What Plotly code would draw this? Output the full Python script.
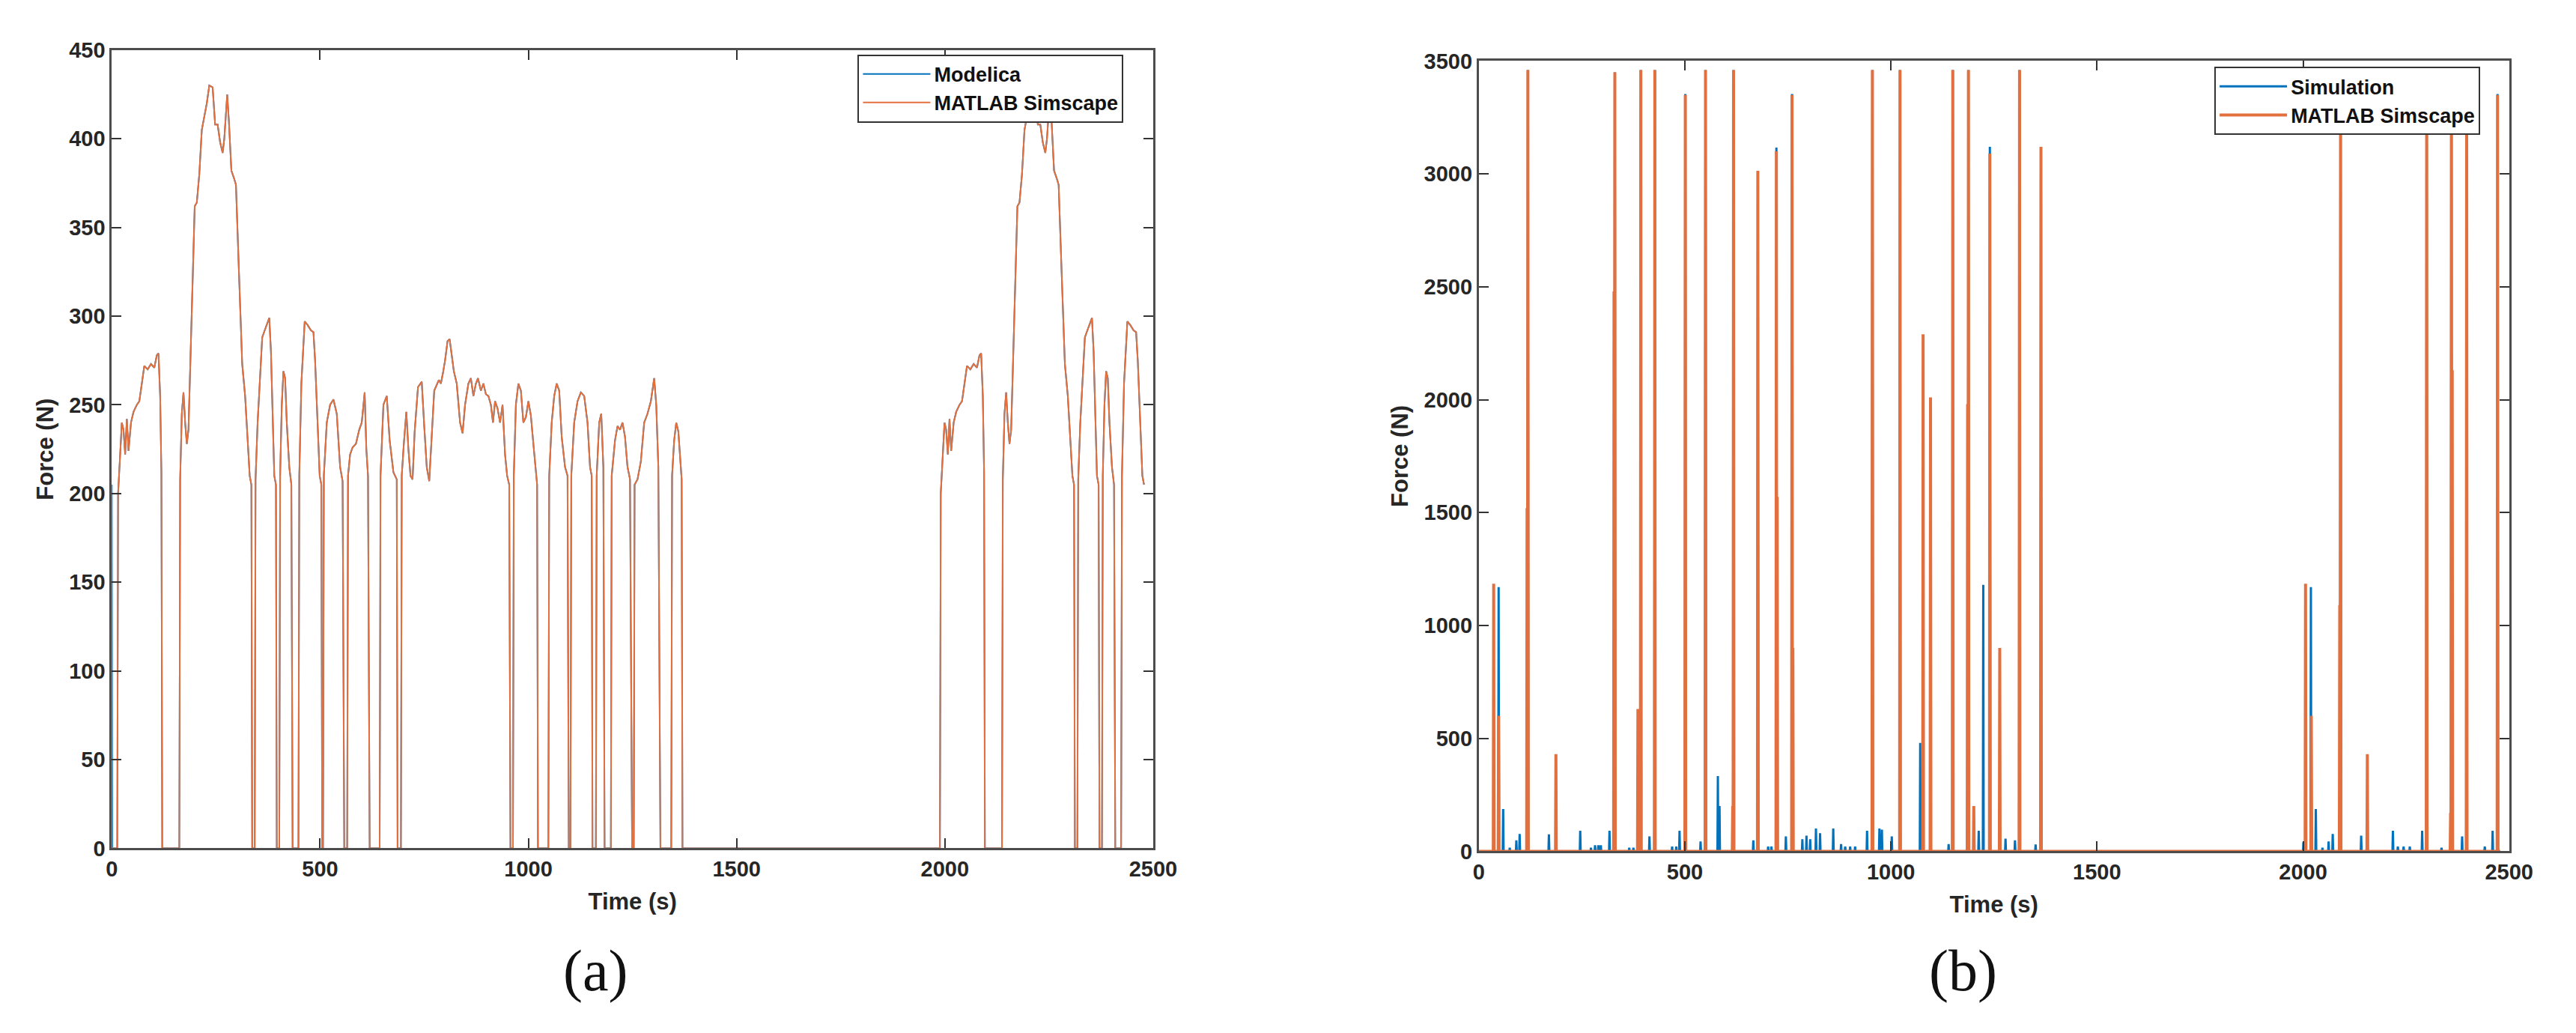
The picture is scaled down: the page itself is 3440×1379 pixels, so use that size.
import plotly.graph_objects as go

# ---------------- Panel (a): force time series (N) ----------------
# (time s, force N); Modelica is identical to
# Simscape except for its first sample.
A_SIMSCAPE_POINTS = [
    (0, 0), (1, 0), (13, 0), (15, 200), (20, 222), (24, 240), (28, 236), (32, 222), (36, 242), (40, 224),
    (46, 240), (52, 246), (60, 250), (66, 252), (72, 262), (78, 272), (86, 270), (94, 273), (102, 271),
    (108, 278), (112, 279), (116, 255), (119, 212), (121, 0),
    (162, 0), (164, 208), (168, 245), (172, 257), (176, 240), (180, 228), (184, 236), (189, 282), (195, 326),
    (199, 362), (204, 364), (210, 380), (216, 405), (222, 413), (228, 420), (234, 430), (242, 429), (248, 408),
    (254, 408), (260, 398), (266, 392), (270, 400), (277, 425), (281, 410), (287, 382), (293, 378), (298, 374),
    (305, 326), (313, 273), (320, 255), (326, 232), (331, 210), (335, 205), (337, 0),
    (343, 0), (345, 208), (350, 240), (355, 262), (361, 288), (367, 292), (373, 296), (378, 299), (382, 280),
    (386, 245), (390, 210), (394, 205), (396, 0),
    (402, 0), (404, 210), (408, 250), (412, 269), (416, 265), (420, 240), (426, 215), (431, 205), (434, 0),
    (448, 0), (450, 210), (455, 262), (463, 297), (470, 295), (478, 292), (484, 291), (488, 275), (494, 240),
    (499, 210), (503, 205), (505, 0),
    (507, 0), (509, 210), (516, 240), (524, 250), (532, 253), (540, 245), (548, 215), (554, 207), (558, 0),
    (565, 0), (567, 210), (572, 222), (578, 226), (586, 228), (594, 236), (600, 240), (607, 257), (611, 225),
    (615, 210), (619, 0),
    (643, 0), (645, 210), (652, 250), (660, 255), (667, 230), (676, 212), (684, 208), (686, 0),
    (694, 0), (696, 210), (701, 228), (707, 246), (712, 225), (717, 210), (722, 208), (727, 235), (735, 260),
    (744, 263), (750, 238), (756, 215), (762, 207), (768, 230), (774, 258), (785, 264), (790, 262), (795, 268),
    (800, 275), (806, 286), (811, 287), (816, 278), (821, 269), (828, 262), (836, 240), (842, 234), (848, 250),
    (856, 262), (862, 265), (868, 255), (874, 262), (879, 265), (886, 258), (892, 262), (898, 256), (904, 255),
    (910, 250), (915, 240), (920, 252), (926, 248), (932, 240), (938, 250), (944, 222), (949, 210), (954, 205),
    (957, 0),
    (963, 0), (965, 210), (970, 250), (976, 262), (982, 258), (988, 240), (994, 243), (1000, 252), (1006, 244),
    (1012, 228), (1018, 210), (1021, 205), (1023, 0),
    (1048, 0), (1050, 210), (1056, 240), (1062, 255), (1068, 262), (1074, 258), (1080, 232), (1088, 215),
    (1094, 210), (1097, 0),
    (1101, 0), (1103, 210), (1110, 240), (1118, 252), (1126, 257), (1134, 255), (1142, 240), (1148, 215),
    (1152, 210), (1154, 0),
    (1162, 0), (1164, 210), (1170, 240), (1175, 245), (1180, 215), (1183, 0),
    (1198, 0), (1200, 210), (1208, 230), (1214, 238), (1220, 236), (1226, 240), (1232, 232), (1238, 215),
    (1244, 208), (1249, 0),
    (1253, 0), (1255, 205), (1262, 208), (1270, 218), (1278, 240), (1286, 245), (1294, 252), (1302, 265),
    (1307, 250), (1312, 215), (1317, 0),
    (1343, 0), (1345, 210), (1350, 230), (1355, 240), (1360, 235), (1365, 215), (1368, 208), (1370, 0),
    (1988, 0), (1990, 200), (1995, 222), (1999, 240), (2003, 236), (2007, 222), (2011, 242), (2015, 224),
    (2021, 240), (2027, 246), (2035, 250), (2041, 252), (2047, 262), (2053, 272), (2061, 270), (2069, 273),
    (2077, 271), (2083, 278), (2087, 279), (2091, 255), (2094, 212), (2096, 0),
    (2137, 0), (2139, 208), (2143, 245), (2147, 257), (2151, 240), (2155, 228), (2159, 236), (2164, 282),
    (2170, 326), (2174, 362), (2179, 364), (2185, 380), (2191, 405), (2197, 413), (2203, 420), (2209, 430),
    (2217, 429), (2223, 408), (2229, 408), (2235, 398), (2241, 392), (2245, 400), (2252, 425), (2256, 410),
    (2262, 382), (2268, 378), (2273, 374), (2280, 326), (2288, 273), (2295, 255), (2301, 232), (2306, 210),
    (2310, 205), (2312, 0),
    (2318, 0), (2320, 208), (2325, 240), (2330, 262), (2336, 288), (2342, 292), (2348, 296), (2353, 299),
    (2357, 280), (2361, 245), (2365, 210), (2369, 205), (2371, 0),
    (2377, 0), (2379, 210), (2383, 250), (2387, 269), (2391, 265), (2395, 240), (2401, 215), (2406, 205),
    (2409, 0),
    (2423, 0), (2425, 210), (2430, 262), (2438, 297), (2445, 295), (2453, 292), (2459, 291), (2463, 275),
    (2469, 240), (2474, 210), (2478, 205),
]
A_MODELICA_FIRST = (0, 205)

# ---------------- Panel (b): force spikes (N) ----------------
B_END_TIME = 2478
B_SIMSCAPE_SPIKES = [
    (36, 1185), (48, 600), (117, 1520), (119, 3460), (187, 430), (328, 2480), (330, 3450), (386, 630),
    (393, 3460), (427, 3460), (501, 3350), (550, 3460), (616, 200), (618, 3460), (677, 3014), (722, 3100),
    (724, 1570), (760, 3350), (762, 900), (955, 3460), (1022, 3460), (1078, 2290), (1096, 2010), (1150, 3460),
    (1186, 1980), (1188, 3460), (1201, 200), (1240, 3090), (1264, 900), (1312, 3460), (1364, 3120),
    (2006, 1185), (2020, 600), (2089, 1090), (2091, 3450), (2156, 430), (2300, 3450), (2358, 170),
    (2360, 3450), (2362, 2130), (2397, 3450), (2472, 3350),
]
B_SIMULATION_SPIKES = [
    (48, 1170), (59, 187), (75, 16), (91, 48), (99, 77), (119, 3460), (170, 75), (246, 91), (272, 16),
    (282, 27), (290, 27), (296, 27), (317, 91), (330, 3450), (365, 16), (375, 16), (393, 3460), (414, 66),
    (427, 3460), (469, 21), (479, 21), (487, 91), (501, 3354), (538, 43), (550, 3460), (580, 333), (584, 200),
    (618, 3460), (666, 48), (677, 3014), (702, 21), (710, 21), (722, 3117), (745, 66), (760, 3354), (785, 53),
    (795, 69), (804, 53), (818, 101), (828, 80), (860, 101), (879, 32), (889, 21), (901, 21), (913, 21),
    (942, 91), (955, 3460), (972, 101), (978, 96), (1002, 66), (1022, 3460), (1071, 480), (1140, 32),
    (1150, 3460), (1188, 3460), (1213, 91), (1224, 1180), (1240, 3120), (1278, 56), (1301, 48), (1312, 3460),
    (1351, 30), (1364, 3120), (2001, 40), (2019, 1170), (2031, 187), (2047, 16), (2062, 43), (2072, 77),
    (2091, 3450), (2141, 69), (2218, 91), (2230, 21), (2244, 21), (2259, 21), (2289, 91), (2300, 3450),
    (2336, 16), (2360, 3450), (2386, 66), (2397, 3450), (2441, 21), (2460, 91), (2472, 3354),
]

X_TICKS = [0, 500, 1000, 1500, 2000, 2500]
A_Y_TICKS = [0, 50, 100, 150, 200, 250, 300, 350, 400, 450]
B_Y_TICKS = [0, 500, 1000, 1500, 2000, 2500, 3000, 3500]

BLUE = "#0072BD"
ORANGE_A = "#E4703E"
ORANGE_B = "#E2703F"
FONT = "Liberation Sans, Arial, sans-serif"
TXT = "#262626"
W, H = 3440, 1379


def spike_series(spikes, end_time):
    xs, ys = [0], [0]
    for t, f in spikes:
        xs += [t - 1, t, t + 1]
        ys += [0, f, 0]
    xs.append(end_time)
    ys.append(0)
    return xs, ys


a_t = [p[0] for p in A_SIMSCAPE_POINTS]
a_f = [p[1] for p in A_SIMSCAPE_POINTS]
m_t = [A_MODELICA_FIRST[0]] + a_t[1:]
m_f = [A_MODELICA_FIRST[1]] + a_f[1:]

bo_x, bo_y = spike_series(B_SIMSCAPE_SPIKES, B_END_TIME)
bb_x, bb_y = spike_series(B_SIMULATION_SPIKES, B_END_TIME)

fig = go.Figure()
fig.add_trace(go.Scatter(x=m_t, y=m_f, mode="lines", name="Modelica",
                         line=dict(color=BLUE, width=2), xaxis="x", yaxis="y", legend="legend"))
fig.add_trace(go.Scatter(x=a_t, y=a_f, mode="lines", name="MATLAB Simscape",
                         line=dict(color=ORANGE_A, width=2),
                         xaxis="x", yaxis="y", legend="legend"))
fig.add_trace(go.Scatter(x=bb_x, y=bb_y, mode="lines", name="Simulation",
                         line=dict(color=BLUE, width=3), xaxis="x2", yaxis="y2", legend="legend2"))
fig.add_trace(go.Scatter(x=bo_x, y=bo_y, mode="lines", name="MATLAB Simscape",
                         line=dict(color=ORANGE_B, width=4),
                         xaxis="x2", yaxis="y2", legend="legend2"))


def px_x(p):
    return p / W


def px_y(p):
    return 1 - p / H


axis_common = dict(
    showline=True, linecolor="#4d4d4d", linewidth=3, mirror="allticks",
    ticks="inside", ticklen=13, tickwidth=2, tickcolor="#333333",
    showgrid=False, zeroline=False,
    tickfont=dict(family=FONT, size=29, color=TXT, weight="bold"),
)
title_font = dict(family=FONT, size=31, color=TXT, weight="bold")

fig.update_layout(
    width=W, height=H, margin=dict(l=0, r=0, t=0, b=0),
    paper_bgcolor="white", plot_bgcolor="white",
    xaxis=dict(domain=[px_x(143), px_x(1550)], range=[0, 2500], tickvals=X_TICKS,
               anchor="y", title=dict(text="Time (s)", font=title_font, standoff=18), **axis_common),
    yaxis=dict(domain=[px_y(1143), px_y(52)], range=[0, 450], tickvals=A_Y_TICKS,
               anchor="x", title=dict(text="Force (N)", font=title_font, standoff=12), **axis_common),
    xaxis2=dict(domain=[px_x(1990), px_x(3382)], range=[0, 2500], tickvals=X_TICKS,
                anchor="y2", title=dict(text="Time (s)", font=title_font, standoff=18), **axis_common),
    yaxis2=dict(domain=[px_y(1147), px_y(67)], range=[0, 3500], tickvals=B_Y_TICKS,
                anchor="x2", title=dict(text="Force (N)", font=title_font, standoff=12), **axis_common),
    legend=dict(x=px_x(1510), y=px_y(58), xanchor="right", yanchor="top",
                bgcolor="white", bordercolor="#333333", borderwidth=2, itemwidth=90,
                font=dict(family=FONT, size=27, color="#111111", weight="bold")),
    legend2=dict(x=px_x(3343), y=px_y(75), xanchor="right", yanchor="top",
                 bgcolor="white", bordercolor="#333333", borderwidth=2, itemwidth=90,
                 font=dict(family=FONT, size=27, color="#111111", weight="bold")),
    annotations=[
        dict(text="(a)", x=px_x(797), y=px_y(1310), xref="paper", yref="paper",
             showarrow=False, xanchor="center", yanchor="middle",
             font=dict(family="Liberation Serif, Times New Roman, serif", size=78, color="#111111")),
        dict(text="(b)", x=px_x(2644), y=px_y(1310), xref="paper", yref="paper",
             showarrow=False, xanchor="center", yanchor="middle",
             font=dict(family="Liberation Serif, Times New Roman, serif", size=78, color="#111111")),
    ],
)

fig.write_html("out.html", config={"displayModeBar": False},
               post_script="document.body.style.margin='0';document.body.style.overflow='hidden';")
